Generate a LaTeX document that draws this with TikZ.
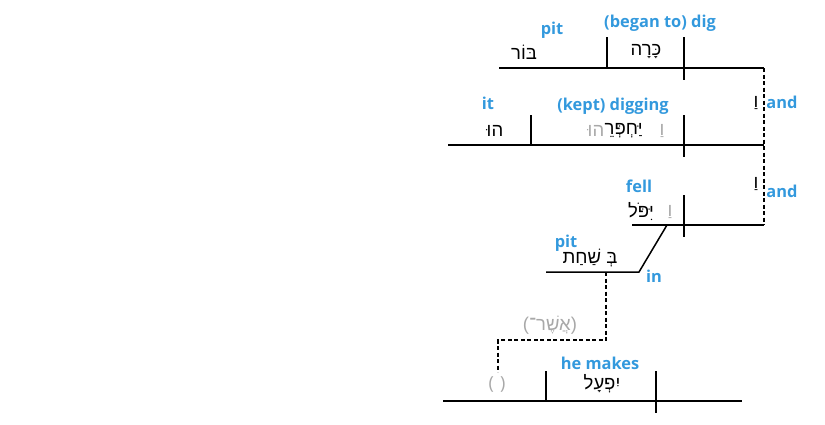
\documentclass[tikz,border=0pt]{standalone}
\usepackage{fontspec}
\setmainfont{Open Sans}
\newfontfamily\heb[Script=Hebrew]{Liberation Sans}
\TeXXeTstate=1
\definecolor{lblue}{HTML}{3399DD}
\definecolor{lgray}{HTML}{A8A8A8}
\begin{document}
\begin{tikzpicture}[x=1pt,y=-1pt,
  lbl/.style={font=\fontsize{16.4}{18}\selectfont\bfseries, text=lblue, inner sep=0pt},
  hw/.style={font=\heb\fontsize{18.5}{20}\selectfont, inner sep=0pt},
  gw/.style={hw, text=lgray},
  ln/.style={line width=1.5pt, line cap=butt},
  dsh/.style={line width=1.3pt, dashed, dash pattern=on 4pt off 2.5pt}]
\useasboundingbox (0,0) rectangle (825,424);
% coordinates
\coordinate (a1) at (499,68); \coordinate (a2) at (764,68);
\coordinate (a3) at (684,37); \coordinate (a4) at (684,80);
\coordinate (a5) at (607,37); \coordinate (a6) at (607,68);
\coordinate (b1) at (448,145); \coordinate (b2) at (764,145);
\coordinate (b3) at (684,115); \coordinate (b4) at (684,157);
\coordinate (b5) at (531,115); \coordinate (b6) at (531,145);
\coordinate (c1) at (632,225); \coordinate (c2) at (764,225);
\coordinate (c3) at (684,195); \coordinate (c4) at (684,237);
\coordinate (s1) at (667,225); \coordinate (s2) at (639,272);
\coordinate (p1) at (546,272);
\coordinate (r1) at (606,272); \coordinate (r2) at (606,340);
\coordinate (r3) at (498,340); \coordinate (r4) at (498,372);
\coordinate (d1) at (443,401); \coordinate (d2) at (742,401);
\coordinate (d3) at (656,371); \coordinate (d4) at (656,413);
\coordinate (d5) at (546,371); \coordinate (d6) at (546,401);
% lines
\draw[ln] (a1) -- (a2); \draw[ln] (a3) -- (a4); \draw[ln] (a5) -- (a6);
\draw[ln] (b1) -- (b2); \draw[ln] (b3) -- (b4); \draw[ln] (b5) -- (b6);
\draw[ln] (c1) -- (c2); \draw[ln] (c3) -- (c4);
\draw[ln] (s1) -- (s2) -- (p1);
\draw[dsh] (a2) -- (c2);
\draw[dsh] (r1) -- (r2) -- (r3) -- (r4);
\draw[ln] (d1) -- (d2); \draw[ln] (d3) -- (d4); \draw[ln] (d5) -- (d6);
% texts
\node[hw] (t1) at (524,52) {\beginR בּוֹר\endR};
\node[hw] (t2) at (646,52) {\beginR כָּרָה\endR};
\node[lbl] (l1) at (552,30) {pit};
\node[lbl] (l2) at (660,23) {(began to) dig};
\node[hw] (w1) at (756,103) {\beginR וַ\endR};
\node[lbl] (n1) at (782,102) {and};
\node[lbl] (l3) at (488,103) {it};
\node[lbl] (l4) at (613,106) {(kept) digging};
\node[hw] (t3) at (495,131) {\beginR הוּ\endR};
\node[gw] (t4a) at (662,131) {\beginR וַ\endR};
\node[hw, anchor=east] (t4b) at (643,131) {\beginR יַּחְפְּרֵ\endR};
\node[gw, anchor=east] (t4c) at (t4b.west) {\beginR הוּ\endR};
\node[hw] (w2) at (756,184) {\beginR וַ\endR};
\node[lbl] (n2) at (782,191) {and};
\node[lbl] (l5) at (639,186) {fell};
\node[gw] (t5a) at (670,212) {\beginR וַ\endR};
\node[hw] (t5b) at (641,212) {\beginR יִּפֹּל\endR};
\node[lbl] (l6) at (566,243) {pit};
\node[hw] (t6) at (590,258) {\beginR בְּ שַׁחַת\endR};
\node[lbl] (l7) at (654,276) {in};
\node[gw] (t7) at (550,325) {\beginR(אֲשֶׁר־)\endR};
\node[lbl] (l8) at (600,363) {he makes};
\node[hw] (t8) at (602,384) {\beginR יִפְעָל\endR};
\node[font=\fontsize{18}{20}\selectfont, text=lgray, inner sep=0pt] (t9) at (497,384) {(\,\,)};
\end{tikzpicture}
\end{document}
